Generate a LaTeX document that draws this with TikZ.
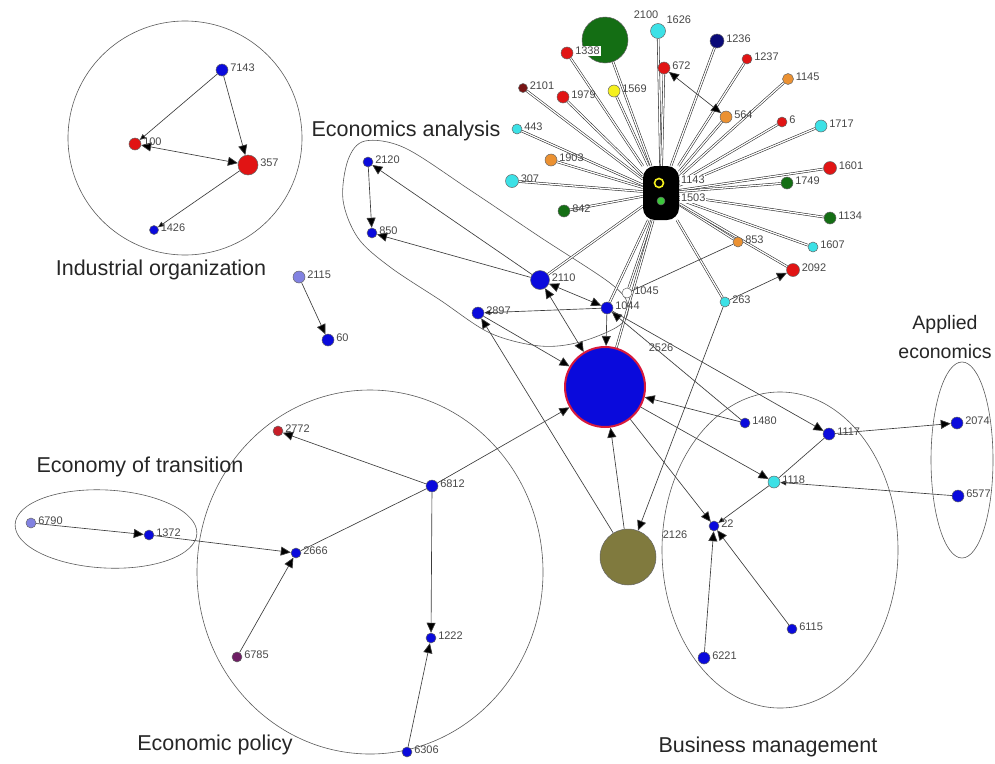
\documentclass[tikz,border=0pt]{standalone}
\usepackage{fontspec}
\setmainfont{Liberation Sans}
\usetikzlibrary{arrows.meta}
\pgfdeclarelayer{bg}
\pgfsetlayers{bg,main}
\definecolor{nblue}{RGB}{10,10,220}
\definecolor{nred}{RGB}{225,20,20}
\definecolor{ncyan}{RGB}{60,225,230}
\definecolor{norange}{RGB}{235,145,50}
\definecolor{ngreen}{RGB}{20,110,20}
\definecolor{nbgreen}{RGB}{60,200,60}
\definecolor{nyellow}{RGB}{245,240,30}
\definecolor{nnavy}{RGB}{10,10,120}
\definecolor{ndred}{RGB}{120,20,20}
\definecolor{nlav}{RGB}{130,130,225}
\definecolor{npurple}{RGB}{110,30,100}
\definecolor{nolive}{RGB}{128,122,62}
\definecolor{ncrim}{RGB}{200,30,40}
\definecolor{bigborder}{RGB}{215,25,60}
\definecolor{edgecol}{RGB}{60,60,60}
\tikzset{
  nd/.style={circle, draw=black!60, line width=0.5pt, inner sep=0pt, minimum size=#1},
  nd/.default=10pt,
  lab/.style={font=\fontsize{11}{12}\selectfont, text=black!72, inner sep=0.8pt, yshift=2pt},
  grp/.style={font=\fontsize{21.5}{29}\selectfont, text=black!85, inner sep=0pt},
  edgeline/.style={draw=edgecol, line width=0.65pt},
  tip/.tip={Triangle[length=10pt,width=9pt,fill=black]},
  stip/.tip={Triangle[length=6pt,width=5pt,fill=black]},
  arr/.style={edgeline, -tip},
  barr/.style={edgeline, tip-tip},
  sarr/.style={edgeline, -stip},
  spoke/.style={draw=black!85, line width=0.55pt, double=white, double distance=1.3pt},
  outline/.style={draw=black!65, line width=0.6pt}
}
\begin{document}
\begin{tikzpicture}[x=1pt,y=-1pt,label distance=1pt]
\useasboundingbox (0,0) rectangle (995,763);
% ---------- hub cluster ----------
\node[fill=black, rounded corners=12pt, minimum width=36pt, minimum height=54pt, inner sep=0pt] (hub) at (661,193) {};
\node[circle, draw=nyellow, line width=1.6pt, fill=black, minimum size=9pt, inner sep=0pt] (n1143) at (659,183) {};
\node[nd=8pt, fill=nbgreen] (n1503) at (661,201) {};
\node[lab, fill=white, anchor=west] (t1143) at (680,182) {1143};
\node[lab, fill=white, anchor=west] (t1503) at (680,200) {1503};

\node[nd=46pt, fill=ngreen] (n2100) at (605,40) {};
\node[lab] (t2100) at (646,17) {2100};
\node[nd=12pt, fill=nred, label={[lab, fill=white]right:1338}] (n1338) at (567,53) {};
\node[nd=15pt, fill=ncyan, label={[lab]30:1626}] (n1626) at (658,31) {};
\node[nd=14pt, fill=nnavy, label={[lab]right:1236}] (n1236) at (717,41) {};
\node[nd=10pt, fill=nred, label={[lab]right:1237}] (n1237) at (747,59) {};
\node[nd=12pt, fill=nred, label={[lab]right:672}] (n672) at (664,68) {};
\node[nd=11pt, fill=norange, label={[lab]right:1145}] (n1145) at (788,79) {};
\node[nd=9pt, fill=ndred, label={[lab]right:2101}] (n2101) at (523,88) {};
\node[nd=12pt, fill=nred, label={[lab]right:1979}] (n1979) at (563,97) {};
\node[nd=12pt, fill=nyellow, label={[lab]right:1569}] (n1569) at (614,91) {};
\node[nd=12pt, fill=norange, label={[lab]right:564}] (n564) at (726,117) {};
\node[nd=10pt, fill=nred, label={[lab]right:6}] (n6) at (782,122) {};
\node[nd=12pt, fill=ncyan, label={[lab]right:1717}] (n1717) at (821,126) {};
\node[nd=10pt, fill=ncyan, label={[lab]right:443}] (n443) at (517,129) {};
\node[nd=12pt, fill=norange, label={[lab]right:1903}] (n1903) at (551,160) {};
\node[nd=13pt, fill=ncyan, label={[lab]right:307}] (n307) at (512,181) {};
\node[nd=13pt, fill=nred, label={[lab]right:1601}] (n1601) at (830,168) {};
\node[nd=12pt, fill=ngreen, label={[lab]right:1749}] (n1749) at (787,183) {};
\node[nd=12pt, fill=ngreen, label={[lab]right:842}] (n842) at (564,211) {};
\node[nd=12pt, fill=ngreen, label={[lab]right:1134}] (n1134) at (830,218) {};
\node[nd=10pt, fill=norange, label={[lab]right:853}] (n853) at (738,242) {};
\node[nd=10pt, fill=ncyan, label={[lab]right:1607}] (n1607) at (813,247) {};
\node[nd=13pt, fill=nred, label={[lab]right:2092}] (n2092) at (793,270) {};
\node[nd=10pt, fill=ncyan, label={[lab]right:263}] (n263) at (725,302) {};
\node[nd=10pt, fill=white, label={[lab]right:1045}] (n1045) at (627,293) {};
\node[nd=12pt, fill=nblue, label={[lab]right:1044}] (n1044) at (607,308) {};
\node[nd=19pt, fill=nblue, label={[lab]right:2110}] (n2110) at (540,280) {};
\node[nd=12pt, fill=nblue, label={[lab]right:2897}] (n2897) at (478,313) {};
\node[nd=10pt, fill=nblue, label={[lab]right:2120}] (n2120) at (368,162) {};
\node[nd=10pt, fill=nblue, label={[lab]right:850}] (n850) at (372,233) {};

% ---------- big nodes ----------
\node[circle, inner sep=0pt, minimum size=80pt, fill=nblue, draw=bigborder, line width=2pt] (nbig) at (605,387) {};
\node[lab] (t2526) at (661,350) {2526};
\node[nd=56pt, fill=nolive] (n2126) at (628,557) {};
\node[lab] (t2126) at (675,537) {2126};

% ---------- business / applied ----------
\node[nd=10pt, fill=nblue, label={[lab]right:1480}] (n1480) at (745,423) {};
\node[nd=12pt, fill=nblue, label={[lab]right:1117}] (n1117) at (829,434) {};
\node[nd=12pt, fill=ncyan, label={[lab]right:1118}] (n1118) at (774,482) {};
\node[nd=10pt, fill=nblue, label={[lab]right:22}] (n22) at (714,526) {};
\node[nd=10pt, fill=nblue, label={[lab]right:6115}] (n6115) at (792,629) {};
\node[nd=12pt, fill=nblue, label={[lab]right:6221}] (n6221) at (704,658) {};
\node[nd=12pt, fill=nblue, label={[lab]right:2074}] (n2074) at (957,423) {};
\node[nd=12pt, fill=nblue, label={[lab]right:6577}] (n6577) at (958,496) {};

% ---------- industrial organization ----------
\node[nd=12pt, fill=nblue, label={[lab]right:7143}] (n7143) at (222,70) {};
\node[nd=12pt, fill=nred, label={[lab]right:100}] (n100) at (135,144) {};
\node[nd=20pt, fill=nred, label={[lab]right:357}] (n357) at (248,165) {};
\node[nd=9pt, fill=nblue, label={[lab]right:1426}] (n1426) at (154,230) {};
\node[nd=12pt, fill=nlav, label={[lab]right:2115}] (n2115) at (299,277) {};
\node[nd=12pt, fill=nblue, label={[lab]right:60}] (n60) at (328,340) {};

% ---------- transition / policy ----------
\node[nd=10pt, fill=nlav, label={[lab]right:6790}] (n6790) at (31,523) {};
\node[nd=10pt, fill=nblue, label={[lab]right:1372}] (n1372) at (149,535) {};
\node[nd=10pt, fill=ncrim, label={[lab]right:2772}] (n2772) at (278,431) {};
\node[nd=12pt, fill=nblue, label={[lab]right:6812}] (n6812) at (432,486) {};
\node[nd=10pt, fill=nblue, label={[lab]right:2666}] (n2666) at (296,553) {};
\node[nd=10pt, fill=nblue, label={[lab]right:1222}] (n1222) at (431,638) {};
\node[nd=10pt, fill=npurple, label={[lab]right:6785}] (n6785) at (237,657) {};
\node[nd=10pt, fill=nblue, label={[lab]right:6306}] (n6306) at (407,752) {};

% ---------- group labels ----------
\node[grp] (gIO) at (161,270) {Industrial organization};
\node[grp] (gEA) at (406,131) {Economics analysis};
\node[grp] (gET) at (140,467) {Economy of transition};
\node[grp] (gEP) at (215,745) {Economic policy};
\node[grp] (gBM) at (768,747) {Business management};
\node[grp, font=\fontsize{19.5}{29}\selectfont, align=center] (gAE) at (945,337) {Applied\\economics};

\begin{pgfonlayer}{bg}
% outlines
\draw[outline] (185,138) circle[x radius=117, y radius=117];
\draw[outline] (106,529) [rotate around={-3:(106,529)}] ellipse[x radius=91, y radius=39];
\draw[outline] (370,572) ellipse[x radius=173, y radius=182];
\draw[outline] (780,550) ellipse[x radius=118, y radius=158];
\draw[outline] (962,460) ellipse[x radius=31, y radius=98];
\draw[outline] plot[smooth cycle, tension=0.55] coordinates {(365,141) (405,148) (470,190) (540,237) (610,283) (628,305) (620,325) (580,342) (540,346) (490,333) (440,300) (390,267) (358,238) (343,200) (348,160)};
% spokes
\foreach \n in {n1338,n2100,n1626,n1236,n1237,n672,n1145,n2101,n1979,n1569,n564,n6,n1717,n443,n1903,n307,n1601,n1749,n842,n1134,n853,n1607,n2092,n263,n1045,n1044,n2110,nbig}
  \draw[spoke] (\n) -- (hub);
% industrial organization
\draw[sarr] (n7143) -- (n100);
\draw[arr] (n7143) -- (n357);
\draw[barr] (n100) -- (n357);
\draw[sarr] (n357) -- (n1426);
\draw[arr] (n2115) -- (n60);
% economics analysis
\draw[arr] (n2120) -- (n850);
\draw[arr] (n2110) -- (n2120);
\draw[arr] (n2110) -- (n850);
\draw[barr] (n2110) -- (n1044);
\draw[sarr] (n1044) -- (n2897);
\draw[arr] (n2897) -- (nbig);
\draw[arr] (n2126) -- (n2897);
\draw[arr] (n1044) -- (nbig);
\draw[barr] (n2110) -- (nbig);
\draw[edgeline] (n853) -- (n1045);
\draw[barr] (n672) -- (n564);
\draw[arr] (n263) -- (n2092);
\draw[arr] (n263) -- (n2126);
% central
\draw[arr] (n1480) -- (n1044);
\draw[arr] (n1044) -- (n1117);
\draw[arr] (n1480) -- (nbig);
\draw[arr] (nbig) -- (n1118);
\draw[arr] (nbig) -- (n22);
\draw[arr] (n2126) -- (nbig);
\draw[arr] (n6812) -- (nbig);
% business / applied
\draw[arr] (n1117) -- (n2074);
\draw[sarr] (n6577) -- (n1118);
\draw[edgeline] (n1117) -- (n1118);
\draw[sarr] (n1118) -- (n22);
\draw[arr] (n6221) -- (n22);
\draw[arr] (n6115) -- (n22);
% policy / transition
\draw[arr] (n6812) -- (n2772);
\draw[edgeline] (n6812) -- (n2666);
\draw[arr] (n6812) -- (n1222);
\draw[arr] (n6306) -- (n1222);
\draw[arr] (n6785) -- (n2666);
\draw[arr] (n6790) -- (n1372);
\draw[arr] (n1372) -- (n2666);
\end{pgfonlayer}
\end{tikzpicture}
\end{document}
